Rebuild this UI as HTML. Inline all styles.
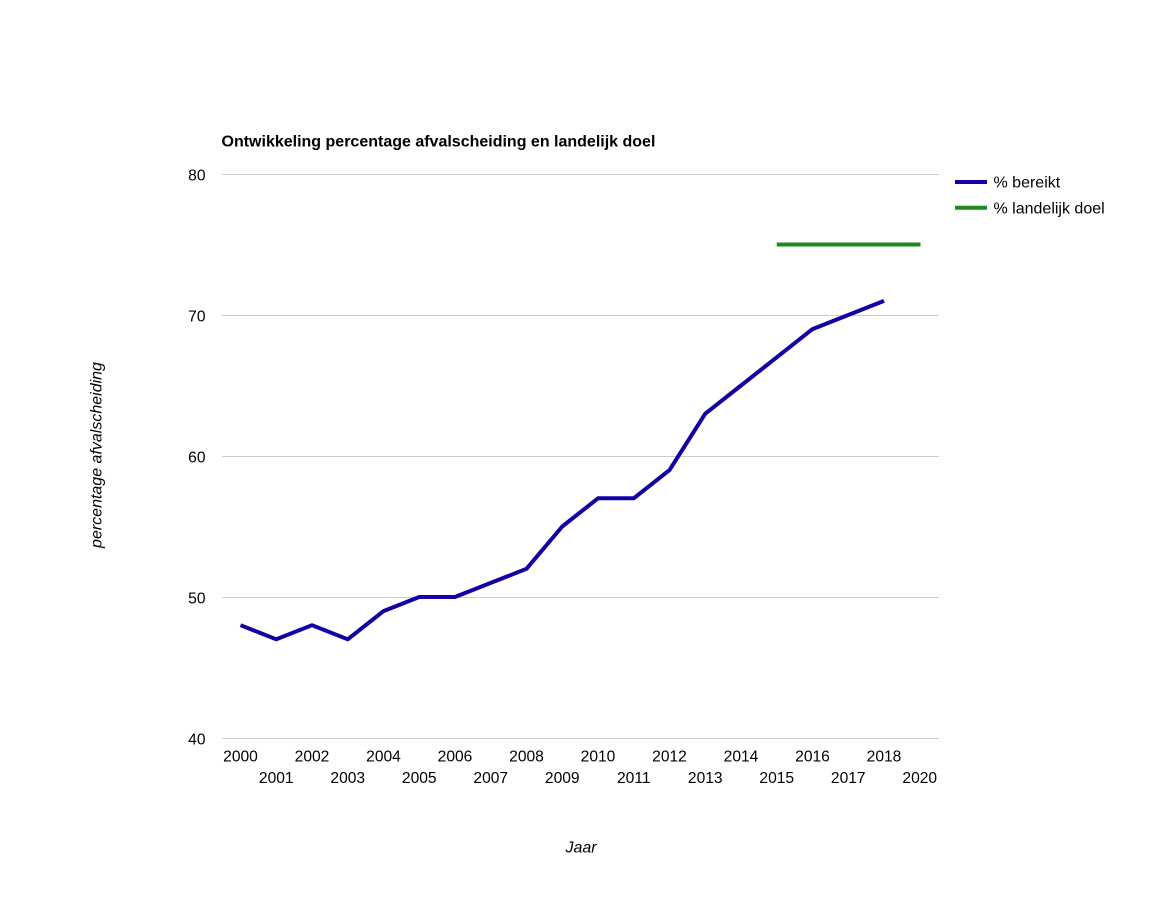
<!DOCTYPE html>
<html>
<head>
<meta charset="utf-8">
<style>
html,body{margin:0;padding:0;background:#fff;}
svg{display:block;}
text{font-family:"Liberation Sans",Arial,Helvetica,sans-serif;fill:#000;}
</style>
</head>
<body>
<svg width="1160" height="912" viewBox="0 0 1160 912" xmlns="http://www.w3.org/2000/svg">
<rect width="1160" height="912" fill="#fff"/>
<text x="221.5" y="146.5" font-size="16" font-weight="bold">Ontwikkeling percentage afvalscheiding en landelijk doel</text>
<g stroke="#cccccc" stroke-width="1">
<line x1="222" y1="174.5" x2="939" y2="174.5"/>
<line x1="222" y1="315.5" x2="939" y2="315.5"/>
<line x1="222" y1="456.5" x2="939" y2="456.5"/>
<line x1="222" y1="597.5" x2="939" y2="597.5"/>
<line x1="222" y1="738.5" x2="939" y2="738.5"/>
</g>
<g font-size="15.6" text-anchor="end">
<text x="205.5" y="180.5">80</text>
<text x="205.5" y="321.5">70</text>
<text x="205.5" y="462.5">60</text>
<text x="205.5" y="603.5">50</text>
<text x="205.5" y="744.5">40</text>
</g>
<g font-size="15.6" text-anchor="middle">
<text x="240.5" y="761.5">2000</text>
<text x="276.25" y="783">2001</text>
<text x="312" y="761.5">2002</text>
<text x="347.75" y="783">2003</text>
<text x="383.5" y="761.5">2004</text>
<text x="419.25" y="783">2005</text>
<text x="455" y="761.5">2006</text>
<text x="490.75" y="783">2007</text>
<text x="526.5" y="761.5">2008</text>
<text x="562.25" y="783">2009</text>
<text x="598" y="761.5">2010</text>
<text x="633.75" y="783">2011</text>
<text x="669.5" y="761.5">2012</text>
<text x="705.25" y="783">2013</text>
<text x="741" y="761.5">2014</text>
<text x="776.75" y="783">2015</text>
<text x="812.5" y="761.5">2016</text>
<text x="848.25" y="783">2017</text>
<text x="884" y="761.5">2018</text>
<text x="919.75" y="783">2020</text>
</g>
<text x="581" y="852.3" font-size="16" font-style="italic" text-anchor="middle">Jaar</text>
<text transform="translate(101.5,455) rotate(-90)" font-size="16" font-style="italic" text-anchor="middle">percentage afvalscheiding</text>
<polyline fill="none" stroke="#1300a3" stroke-width="4" stroke-linejoin="round" stroke-linecap="butt"
points="240.5,625.2 276.25,639.3 312,625.2 347.75,639.3 383.5,611.1 419.25,597 455,597 490.75,582.9 526.5,568.8 562.25,526.5 598,498.3 633.75,498.3 669.5,470.1 705.25,413.7 741,385.5 776.75,357.3 812.5,329.1 848.25,315 884,300.9"/>
<line x1="776.75" y1="244.5" x2="920.5" y2="244.5" stroke="#1e8a1e" stroke-width="4"/>
<line x1="955" y1="182" x2="987" y2="182" stroke="#1300a3" stroke-width="4"/>
<line x1="955" y1="207.7" x2="987" y2="207.7" stroke="#1e8a1e" stroke-width="4"/>
<text x="993.5" y="187.5" font-size="16">% bereikt</text>
<text x="993.5" y="213.3" font-size="16">% landelijk doel</text>
</svg>
</body>
</html>
